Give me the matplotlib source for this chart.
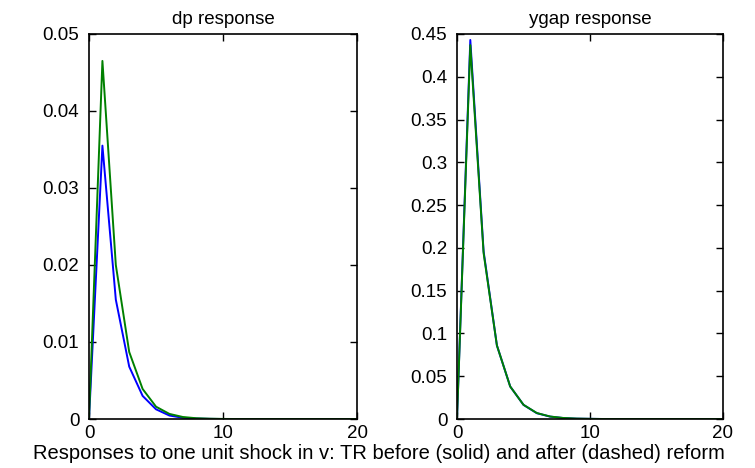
import matplotlib
matplotlib.use("Agg")
import matplotlib.pyplot as plt

plt.rcParams['font.family'] = ['Liberation Sans', 'DejaVu Sans']

t = list(range(21))
dp_before = [0, 0.0355, 0.0155, 0.0068, 0.0030, 0.00126, 0.00045, 0.00016, 0.00006, 0.00002,
             0, 0, 0, 0, 0, 0, 0, 0, 0, 0, 0]
dp_after = [0, 0.0465, 0.0200, 0.0087, 0.0039, 0.0016, 0.00066, 0.00026, 0.0001, 0.00004,
            0.00001, 0, 0, 0, 0, 0, 0, 0, 0, 0, 0]
ygap_before = [0, 0.443, 0.196, 0.086, 0.038, 0.0165, 0.0068, 0.0028, 0.0011, 0.0004,
               0.0002, 0, 0, 0, 0, 0, 0, 0, 0, 0, 0]
ygap_after = [0, 0.437, 0.194, 0.086, 0.038, 0.0166, 0.0070, 0.0029, 0.0012, 0.0005,
              0.0002, 0, 0, 0, 0, 0, 0, 0, 0, 0, 0]

dp_yticks = [0, 0.01, 0.02, 0.03, 0.04, 0.05]
dp_yticklabels = ['0', '0.01', '0.02', '0.03', '0.04', '0.05']
ygap_yticks = [0, 0.05, 0.1, 0.15, 0.2, 0.25, 0.3, 0.35, 0.4, 0.45]
ygap_yticklabels = ['0', '0.05', '0.1', '0.15', '0.2', '0.25', '0.3', '0.35', '0.4', '0.45']
xticks = [0, 10, 20]

fig = plt.figure(figsize=(7.55, 4.68), dpi=100)
ax1 = fig.add_axes([0.1179, 0.1047, 0.3550, 0.8227])
ax2 = fig.add_axes([0.6053, 0.1047, 0.3523, 0.8227])

fs = 13.5
for ax, b, a, yt, ytl, ttl in [(ax1, dp_before, dp_after, dp_yticks, dp_yticklabels, 'dp response'),
                                (ax2, ygap_before, ygap_after, ygap_yticks, ygap_yticklabels, 'ygap response')]:
    ax.plot(t, b, color=(0, 0, 1), lw=1.4)
    ax.plot(t, a, color=(0, 0.5, 0), lw=1.4)
    ax.set_xlim(0, 20)
    ax.set_ylim(yt[0], yt[-1])
    ax.set_xticks(xticks)
    ax.set_xticklabels([str(x) for x in xticks], fontsize=fs)
    ax.set_yticks(yt)
    ax.set_yticklabels(ytl, fontsize=fs)
    ax.tick_params(axis='y', direction='in', left=True, right=True, length=5, width=1, pad=7)
    ax.tick_params(axis='x', direction='in', bottom=True, top=True, length=5, width=1, pad=4)
    for s in ax.spines.values():
        s.set_linewidth(1.2)
    ax.set_title(ttl, fontsize=13.5, pad=7)

fig.text(0.502, 0.01, 'Responses to one unit shock in v: TR before (solid) and after (dashed) reform',
         ha='center', va='bottom', fontsize=14.5)

fig.savefig('out.png', dpi=100, facecolor='white')
